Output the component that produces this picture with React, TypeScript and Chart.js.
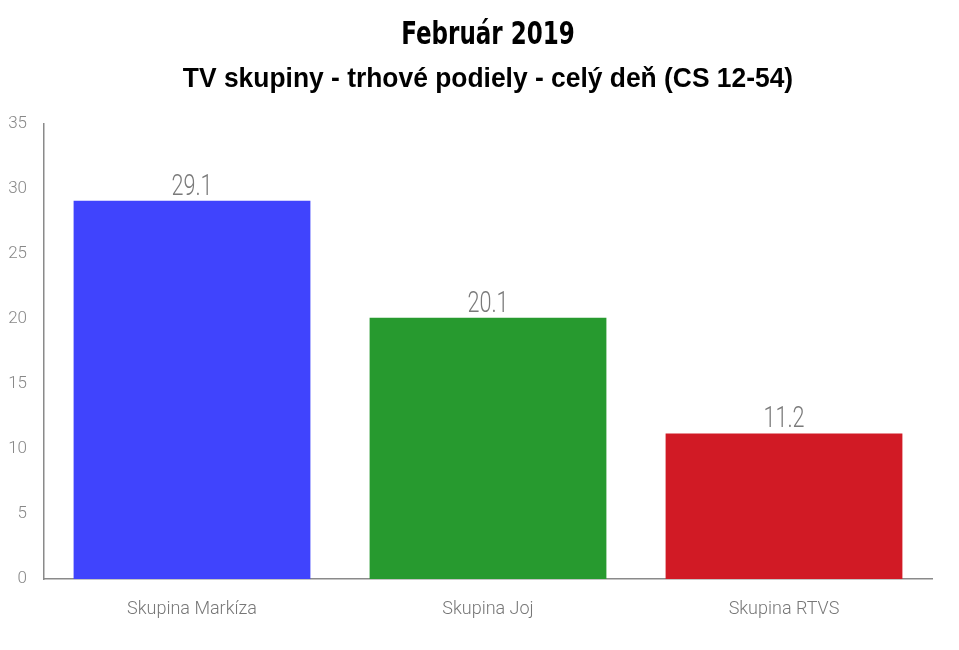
import React, { useEffect, useRef } from "react";
import { Chart, registerables } from "chart.js";

Chart.register(...registerables);

const titleText = "Február 2019";
const subtitleText = "TV skupiny - trhové podiely - celý deň (CS 12-54)";
const categories = ["Skupina Markíza", "Skupina Joj", "Skupina RTVS"];
const shares = [29.1, 20.1, 11.2];
const barColors = ["#4044fd", "#279a2f", "#d11a25"];
const yTicks = [0, 5, 10, 15, 20, 25, 30, 35];

const drawCondensed = (
  ctx: CanvasRenderingContext2D,
  text: string,
  x: number,
  y: number,
  sx: number
) => {
  ctx.save();
  ctx.translate(x, y);
  ctx.scale(sx, 1);
  ctx.fillText(text, 0, 0);
  ctx.restore();
};

const overlayPlugin = {
  id: "overlay",
  afterDatasetsDraw(chart: any) {
    const ctx: CanvasRenderingContext2D = chart.ctx;
    const area = chart.chartArea;
    const cx = (area.left + area.right) / 2;
    ctx.save();
    ctx.textAlign = "center";
    ctx.textBaseline = "alphabetic";
    // main title
    ctx.fillStyle = "#000";
    ctx.font = "bold 32px 'DejaVu Sans Condensed', 'DejaVu Sans', sans-serif";
    drawCondensed(ctx, titleText, cx, 36, 0.8);
    // subtitle
    ctx.font = "bold 27.5px 'Liberation Sans', Arial, sans-serif";
    drawCondensed(ctx, subtitleText, cx, 79, 0.96);
    // value labels
    ctx.fillStyle = "#7a7a7a";
    ctx.font = "300 30px Roboto, 'DejaVu Sans', sans-serif";
    const meta = chart.getDatasetMeta(0);
    meta.data.forEach((bar: any, i: number) => {
      drawCondensed(ctx, String(shares[i]), bar.x, bar.y - 6, 0.72);
    });
    ctx.restore();
  },
};

export default function App() {
  const ref = useRef<HTMLCanvasElement | null>(null);
  useEffect(() => {
    if (!ref.current) return;
    const chart = new Chart(ref.current, {
      type: "bar",
      data: {
        labels: categories,
        datasets: [
          {
            data: shares,
            backgroundColor: barColors,
            borderWidth: 0,
            barPercentage: 0.8,
            categoryPercentage: 1,
          },
        ],
      },
      options: {
        animation: false,
        responsive: true,
        maintainAspectRatio: false,
        layout: { padding: { top: 116, right: 19, left: 0, bottom: 0 } },
        plugins: {
          legend: { display: false },
          title: { display: false },
          tooltip: { enabled: false },
        },
        scales: {
          x: {
            grid: { display: false, drawTicks: false },
            border: { display: true, color: "#8a8a8a", width: 1.5 },
            ticks: {
              color: "#777",
              padding: 20,
              font: { family: "Roboto, 'DejaVu Sans', sans-serif", size: 18, weight: "300" as any },
            },
            afterFit: (s: any) => {
              s.height = 63;
            },
          },
          y: {
            min: 0,
            max: 35,
            afterBuildTicks: (s: any) => {
              s.ticks = yTicks.map((v) => ({ value: v }));
            },
            grid: { display: false, drawTicks: false },
            border: { display: true, color: "#8a8a8a", width: 1.5 },
            ticks: {
              color: "#888",
              padding: 17,
              font: { family: "Roboto, 'DejaVu Sans', sans-serif", size: 17, weight: "300" as any },
            },
            afterFit: (s: any) => {
              s.width = 36;
            },
          },
        },
      },
      plugins: [overlayPlugin],
    });
    return () => chart.destroy();
  }, []);
  return (
    <div style={{ position: "relative", width: 943, height: 634 }}>
      <canvas ref={ref} />
    </div>
  );
}
